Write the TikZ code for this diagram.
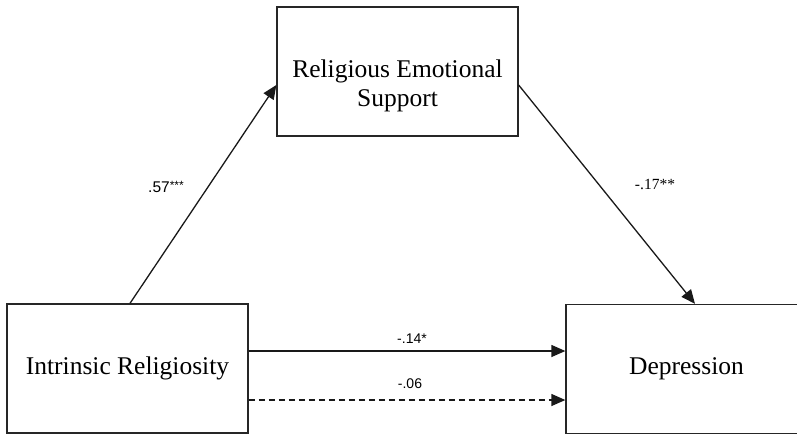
\documentclass[tikz,border=0pt]{standalone}
\usepackage{fontspec}
\setmainfont{Liberation Serif}
\newfontfamily\arialfont{Liberation Sans}
\usetikzlibrary{arrows.meta,calc}
\begin{document}
\begin{tikzpicture}[x=1pt,y=-1pt,
  varbox/.style={draw=black!85, line width=1.3pt, minimum width=241pt, minimum height=129pt, inner sep=0pt},
  boxtext/.style={font=\fontsize{25.5}{29}\selectfont, align=center},
  arr/.style={line width=1.3pt, draw=black!90, -{Triangle[length=14pt,width=12pt]}},
  sanslab/.style={font=\arialfont\fontsize{14}{17}\selectfont, anchor=base, inner sep=0pt},
  seriflab/.style={font=\fontsize{15.5}{18}\selectfont, anchor=base, inner sep=0pt}
]
\useasboundingbox (0,0) rectangle (797,434);
\node[varbox, boxtext] (L) at (127.5,368.5) {Intrinsic Religiosity};
\node[varbox] (T) at (397.5,71.5) {};
\node[boxtext, anchor=base] (Tt) at (397.5,106) {Religious Emotional\\Support};
\node[varbox, boxtext] (R) at (686.5,369) {Depression};

\draw[arr] ($(L.north)+(2.5,0)$) -- ($(T.west)+(0,13.5)$);
\draw[arr] ($(T.east)+(0,13.5)$) -- ($(R.north)+(8.5,0)$);
\draw[arr] (L.east |- 0,351) -- (R.west |- 0,351);
\draw[arr, dash pattern=on 6pt off 4pt] (L.east |- 0,400) -- (R.west |- 0,400);

\node[sanslab, font=\arialfont\fontsize{15.5}{18}\selectfont] (a) at (166,192) {.57\raisebox{2.5pt}{\fontsize{12}{12}\selectfont***}};
\node[seriflab] (b) at (655,189) {-.17**};
\node[sanslab] (c) at (412,343) {-.14*};
\node[sanslab] (d) at (410,388) {-.06};
\end{tikzpicture}
\end{document}
